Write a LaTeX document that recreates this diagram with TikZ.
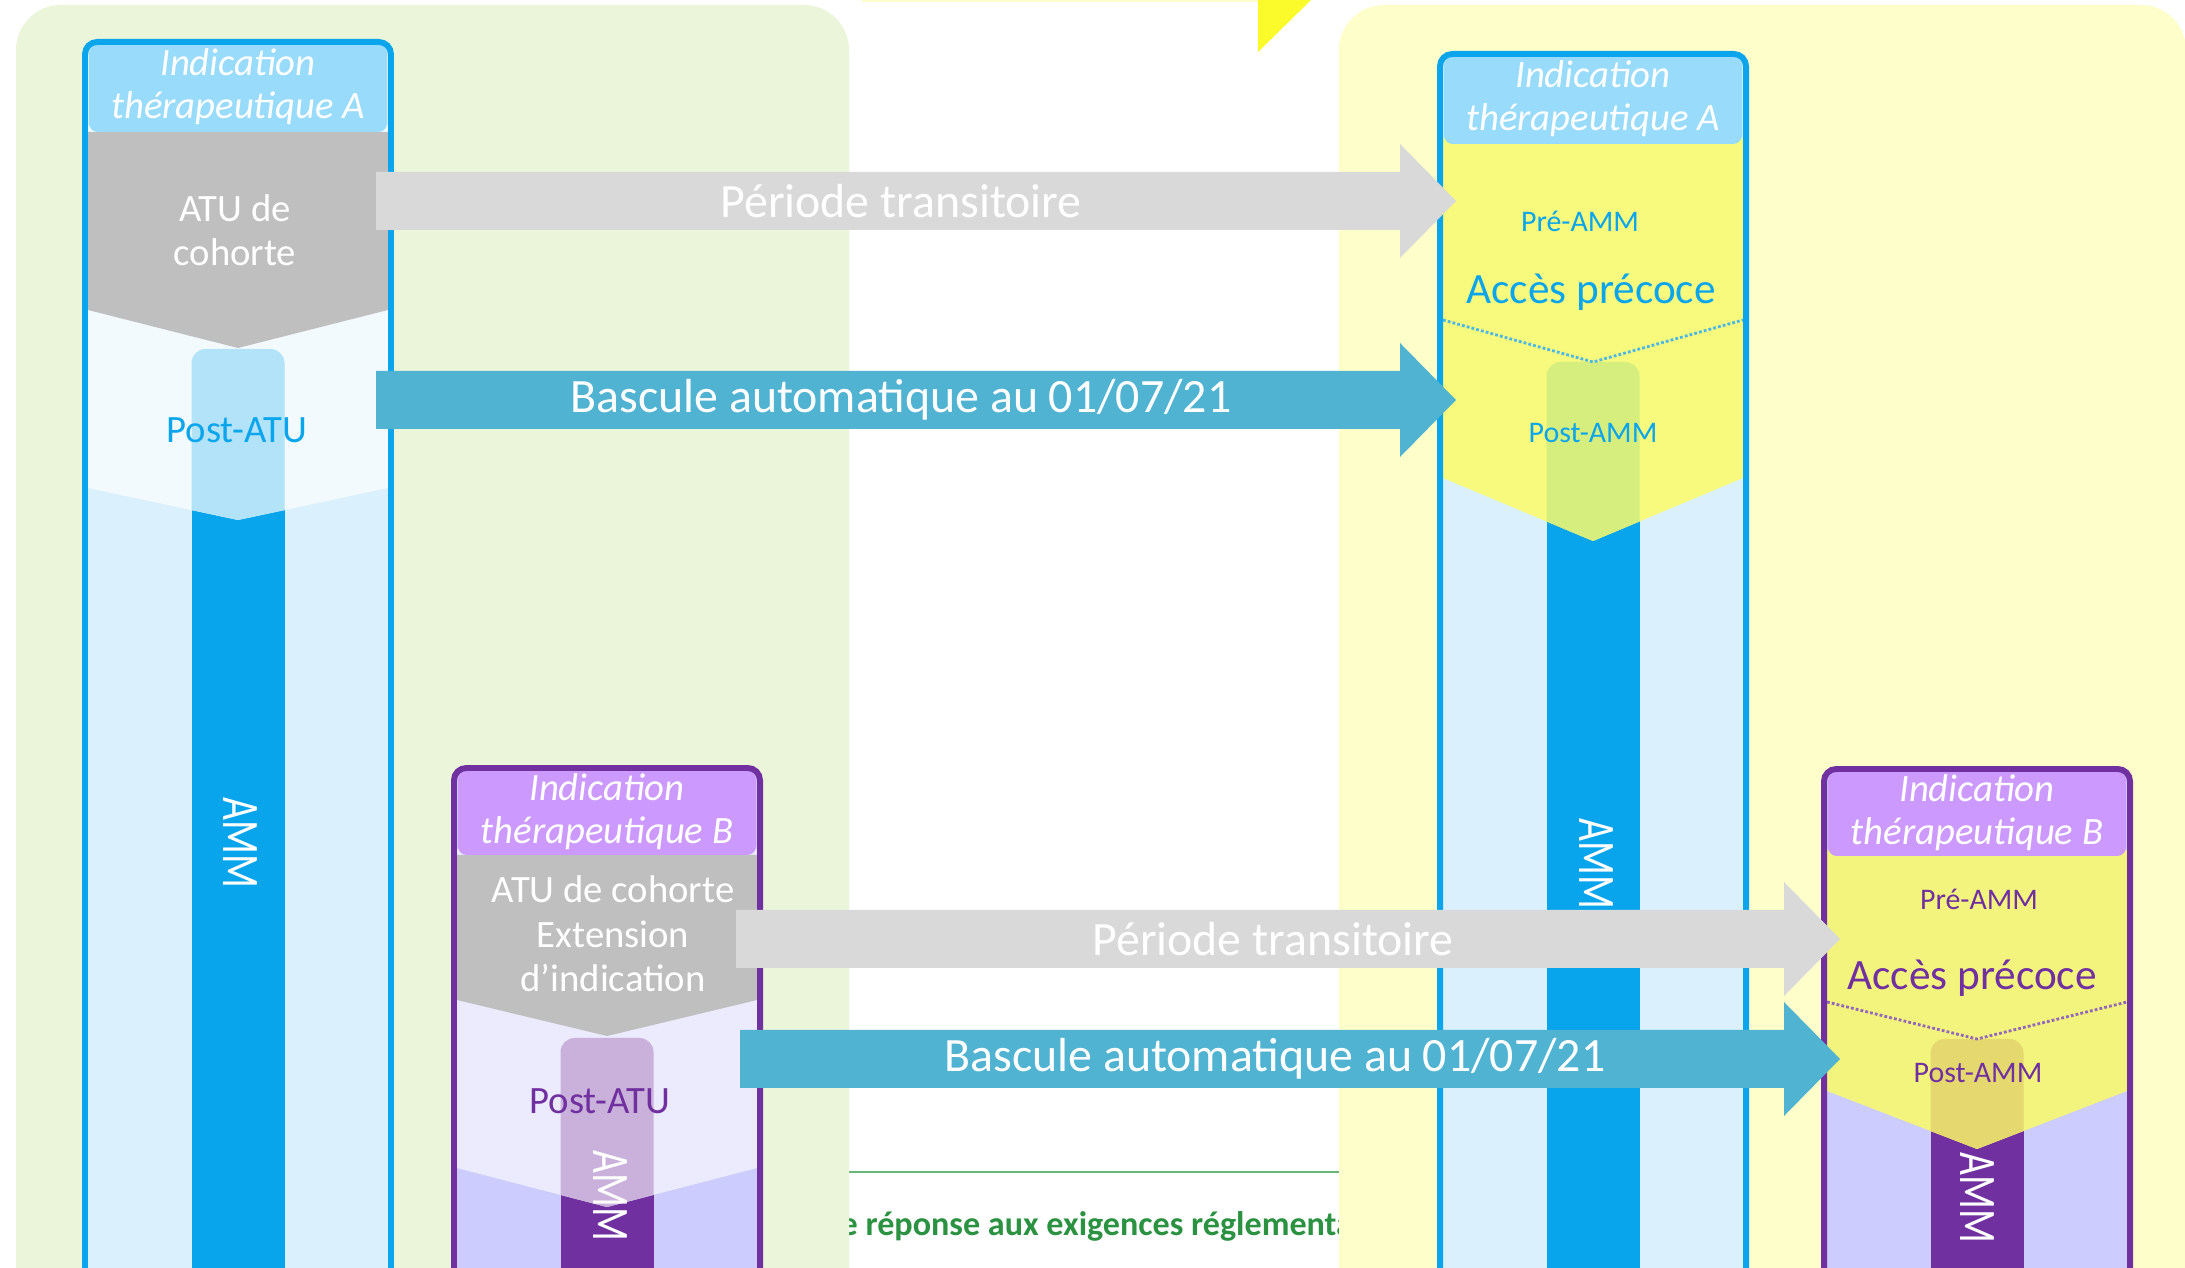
\documentclass[tikz,border=0pt]{standalone}
\usepackage{fontspec}
\setmainfont{Carlito}
\newfontfamily\ammfont[FakeStretch=0.75]{Carlito}

%% colours
\definecolor{greenPanel}{HTML}{EBF5D9}
\definecolor{yellowPanel}{HTML}{FEFECB}
\definecolor{sunYellow}{HTML}{FBFB2C}
\definecolor{bgA}{HTML}{DAF0FC}
\definecolor{barA}{HTML}{09A5EC}
\definecolor{lineA}{HTML}{0AA5EC}
\definecolor{headA}{HTML}{99DBFA}
\definecolor{dotA}{HTML}{4DB8E6}
\definecolor{bgB}{HTML}{CCCCFE}
\definecolor{barB}{HTML}{7030A0}
\definecolor{lineB}{HTML}{7030A0}
\definecolor{headB}{HTML}{CC99FF}
\definecolor{dotB}{HTML}{9468B8}
\definecolor{zoneleftA}{HTML}{F2FAFE}
\definecolor{zonebarleftA}{HTML}{B3E3F9}
\definecolor{zoneleftB}{HTML}{EBEBFD}
\definecolor{zonebarleftB}{HTML}{C9B1DB}
\definecolor{zonerightA}{HTML}{F7FA7D}
\definecolor{zonebarrightA}{HTML}{D5EE7E}
\definecolor{zonerightB}{HTML}{F3F47E}
\definecolor{zonebarrightB}{HTML}{E5D86E}
\definecolor{atuGray}{HTML}{BFBFBF}
\definecolor{arrowGray}{HTML}{D9D9D9}
\definecolor{arrowTeal}{HTML}{4FB3D1}
\definecolor{noteGreen}{HTML}{2A9241}
\definecolor{ruleGreen}{HTML}{6AB57A}

\begin{document}
\begin{tikzpicture}
[x=0.01cm,y=-0.01cm,
 headText/.style={text=white,align=center,font=\fontsize{11pt}{12.3pt}\selectfont\itshape},
 atuText/.style={text=white,align=center,font=\fontsize{11pt}{12.6pt}\selectfont},
 postText/.style={font=\fontsize{11pt}{13pt}\selectfont},
 smallText/.style={font=\fontsize{8.5pt}{10pt}\selectfont},
 bigText/.style={font=\fontsize{12.3pt}{14pt}\selectfont},
 ammText/.style={text=white,rotate=-90,font=\fontsize{15pt}{16pt}\ammfont},
 arrowText/.style={text=white,font=\fontsize{13.6pt}{15pt}\selectfont},
 noteText/.style={text=noteGreen,font=\fontsize{9.7pt}{11pt}\selectfont\bfseries}]
\useasboundingbox (0,0) rectangle (2185,1268);
\clip (0,0) rectangle (2185,1268);
\fill[white] (0,0) rectangle (2185,1268);
%% caption under the panels
\draw[ruleGreen,line width=0.6pt] (830,1172) -- (1360,1172);
\node[noteText,anchor=base west,inner sep=0pt] (note) at (840,1235) {e réponse aux exigences réglementa};
%% top marks
\fill[yellowPanel] (862,0) rectangle (1258,2.5);
\fill[sunYellow] (1258,0) -- (1311,0) -- (1258,52) -- cycle;
%% panels
\fill[greenPanel,rounded corners=12.8pt] (16,5) rectangle (849,1400);
\fill[yellowPanel,rounded corners=12.8pt] (1339,5) rectangle (2186,1400);
%% columns: name/centre/top/header bottom/theme/zone side/zone point/bar top
\foreach \col/\cx/\ytop/\hb/\thm/\zs/\zp/\bt in {leftA/238/42/132/A/488/520/349, leftB/607/768/855/B/1168/1207/1038, rightA/1593/54/144/A/478/541/362, rightB/1977/769/856/B/1091/1149/1039}
{
  \fill[bg\thm,rounded corners=3pt] (\cx-152,1300) -- (\cx-152,\ytop) -- (\cx+152,\ytop) -- (\cx+152,1300) -- cycle;
  \fill[bar\thm] (\cx-46.5,\zs) rectangle (\cx+46.5,1300);
  \fill[zone\col] (\cx-150,\hb-6) -- (\cx+150,\hb-6) -- (\cx+150,\zs) -- (\cx,\zp) -- (\cx-150,\zs) -- cycle;
  \begin{scope}
    \clip (\cx-150,\hb-6) -- (\cx+150,\hb-6) -- (\cx+150,\zs) -- (\cx,\zp) -- (\cx-150,\zs) -- cycle;
    \fill[zonebar\col,rounded corners=4pt] (\cx-46.5,\bt) rectangle (\cx+46.5,1300);
  \end{scope}
}
%% ATU wedges
\foreach \cx/\hb/\gs/\gp in {238/132/310/348, 607/855/1000/1036}
  \fill[atuGray] (\cx-150,\hb) -- (\cx+150,\hb) -- (\cx+150,\gs) -- (\cx,\gp) -- (\cx-150,\gs) -- cycle;
%% dotted limits of early access
\foreach \cx/\ds/\dp/\thm in {1593/320/362/A, 1977/1002/1039/B}
  \draw[dot\thm,line width=0.8pt,dash pattern=on 0.8pt off 0.6pt] (\cx-150,\ds) -- (\cx,\dp) -- (\cx+150,\ds);
%% headers and borders
\foreach \col/\cx/\ytop/\hb/\thm in {leftA/238/42/132/A, leftB/607/768/855/B, rightA/1593/54/144/A, rightB/1977/769/856/B}
{
  \fill[head\thm,rounded corners=2.5pt] (\cx-149,\ytop+3) rectangle (\cx+149,\hb);
  \draw[line\thm,line width=1.7pt,rounded corners=3.5pt] (\cx-153,1300) -- (\cx-153,\ytop) -- (\cx+153,\ytop) -- (\cx+153,1300);
  \node[headText] (head\col) at (\cx,{(\ytop+\hb)/2}) {Indication\\thérapeutique \thm};
}
%% labels in the columns
\node[atuText] (atuA) at (235,230) {ATU de\\cohorte};
\node[atuText] (atuB) at (613,934) {ATU de cohorte\\Extension\\d’indication};
\node[postText,text=lineA] (postAtuA) at (237,430) {Post-ATU};
\node[postText,text=lineB] (postAtuB) at (600,1101) {Post-ATU};
\node[smallText,text=lineA] (preA) at (1580,221) {Pré-AMM};
\node[bigText,text=lineA] (earlyA) at (1591,292) {Accès précoce};
\node[smallText,text=lineA] (postAmmA) at (1593,433) {Post-AMM};
\node[smallText,text=lineB] (preB) at (1979,899) {Pré-AMM};
\node[bigText,text=lineB] (earlyB) at (1972,978) {Accès précoce};
\node[smallText,text=lineB] (postAmmB) at (1978,1073) {Post-AMM};
\foreach \col/\x/\y in {leftA/240/843, leftB/610/1196, rightA/1596/864, rightB/1977/1198}
  \node[ammText] (amm\col) at (\x,\y) {AMM};
%% block arrows
\foreach \i/\xa/\xb/\y/\kind/\txt in {
  1/376/1400/201/arrowGray/{Période transitoire},
  2/376/1400/400/arrowTeal/{Bascule automatique au 01/07/21},
  3/736/1784/939/arrowGray/{Période transitoire},
  4/740/1784/1059/arrowTeal/{Bascule automatique au 01/07/21}}
{
  \fill[\kind] (\xa,\y-29) -- (\xb,\y-29) -- (\xb,\y-57) -- (\xb+56,\y) -- (\xb,\y+57) -- (\xb,\y+29) -- (\xa,\y+29) -- cycle;
  \node[arrowText] (arrow\i) at ({(\xa+\xb)/2+13},\y) {\txt};
}
\end{tikzpicture}
\end{document}
